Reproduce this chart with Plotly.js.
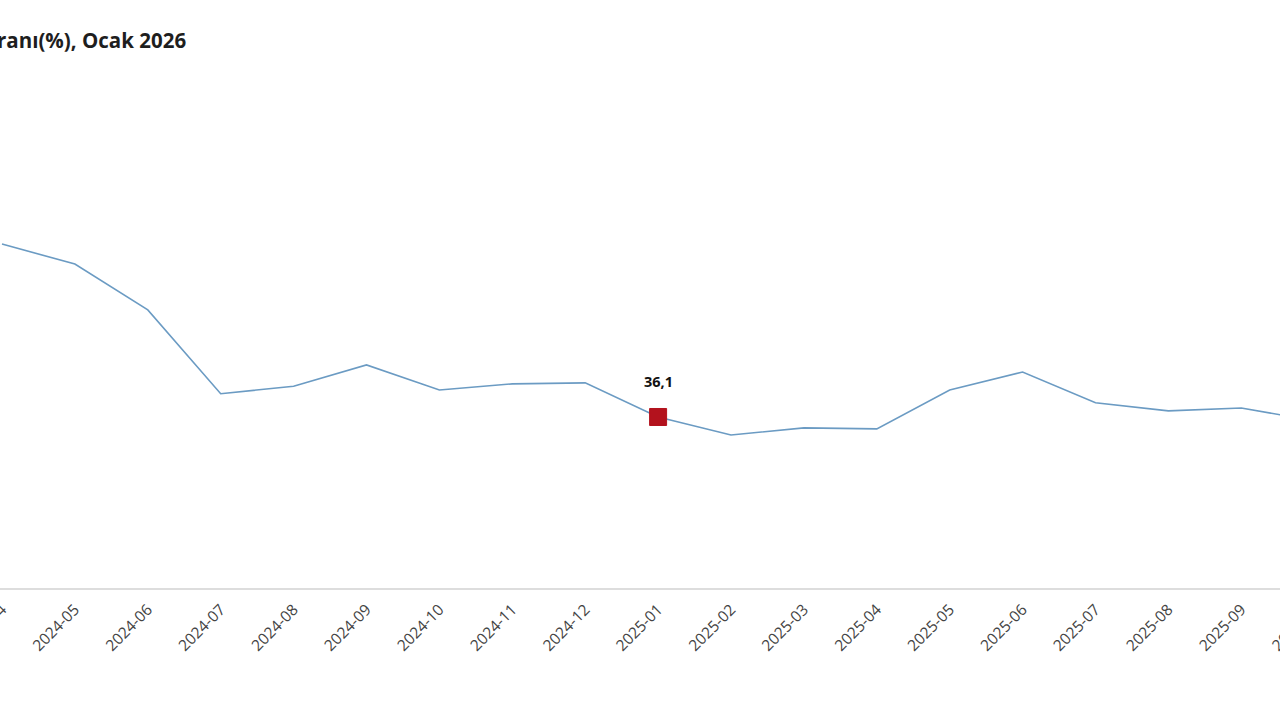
<!DOCTYPE html>
<html>
<head>
<meta charset="utf-8">
<script src="https://cdn.plot.ly/plotly-3.0.1.min.js"></script>
<style>
  html, body { margin:0; padding:0; background:#fff; }
  #wrap { position:relative; width:1280px; height:720px; overflow:hidden; }
  #chart { position:absolute; left:-80px; top:0; width:1440px; height:720px; }
</style>
</head>
<body>
<div id="wrap"><div id="chart"></div></div>
<script>
const titleText = "ranı(%), Ocak 2026";
const months = ["2024-04","2024-05","2024-06","2024-07","2024-08","2024-09","2024-10","2024-11","2024-12",
                "2025-01","2025-02","2025-03","2025-04","2025-05","2025-06","2025-07","2025-08","2025-09","2025-10"];
const values = [72.6, 68.4, 58.7, 41.0, 42.6, 47.1, 41.8, 43.1, 43.3,
                36.1, 32.3, 33.8, 33.6, 41.8, 45.6, 39.1, 37.4, 38.0, 35.3];
const highlightMonth = "2025-01";
const hIdx = months.indexOf(highlightMonth);

const fmt = v => v.toFixed(1).replace('.', ',');

const data = [
  {
    x: months, y: values, type: 'scatter', mode: 'lines',
    line: { color: '#6b9bc3', width: 1.6 },
    hoverinfo: 'skip'
  },
  {
    x: [months[hIdx]], y: [values[hIdx]], type: 'scatter', mode: 'markers',
    marker: { symbol: 'square', size: 17, color: '#b3121d', line: { color: '#b3121d', width: 1 } },
    hoverinfo: 'skip'
  }
];

const layout = {
  width: 1440, height: 720,
  paper_bgcolor: '#ffffff', plot_bgcolor: '#ffffff',
  margin: { l: 0, r: 0, t: 80, b: 132 },
  showlegend: false,
  separators: ',.',
  title: {
    text: titleText, xref: 'container', x: 77/1440, xanchor: 'left',
    yref: 'container', y: 1 - 41/720, yanchor: 'middle',
    font: { family: 'Open Sans, Noto Sans, sans-serif', size: 20.5, color: '#1e1e1e', weight: 'bold' }
  },
  xaxis: {
    type: 'category',
    range: [-82/72.9, 1358/72.9],
    showgrid: false, zeroline: false,
    showline: true, linecolor: '#dddddd', linewidth: 1.5,
    ticks: 'outside', ticklen: 5, tickcolor: 'rgba(0,0,0,0)',
    tickangle: -45,
    tickfont: { family: 'Open Sans, Noto Sans, sans-serif', size: 15.5, color: '#444444' },
    fixedrange: true
  },
  yaxis: {
    range: [0, 508/4.737],
    visible: false, showgrid: false, zeroline: false, fixedrange: true
  },
  annotations: [
    {
      x: months[hIdx], y: values[hIdx], xref: 'x', yref: 'y',
      text: '<b>' + fmt(values[hIdx]) + '</b>', showarrow: false,
      yshift: 35,
      font: { family: 'Open Sans, Noto Sans, sans-serif', size: 14.5, color: '#111111' }
    }
  ]
};

Plotly.newPlot('chart', data, layout, { displayModeBar: false, staticPlot: true });
</script>
</body>
</html>
